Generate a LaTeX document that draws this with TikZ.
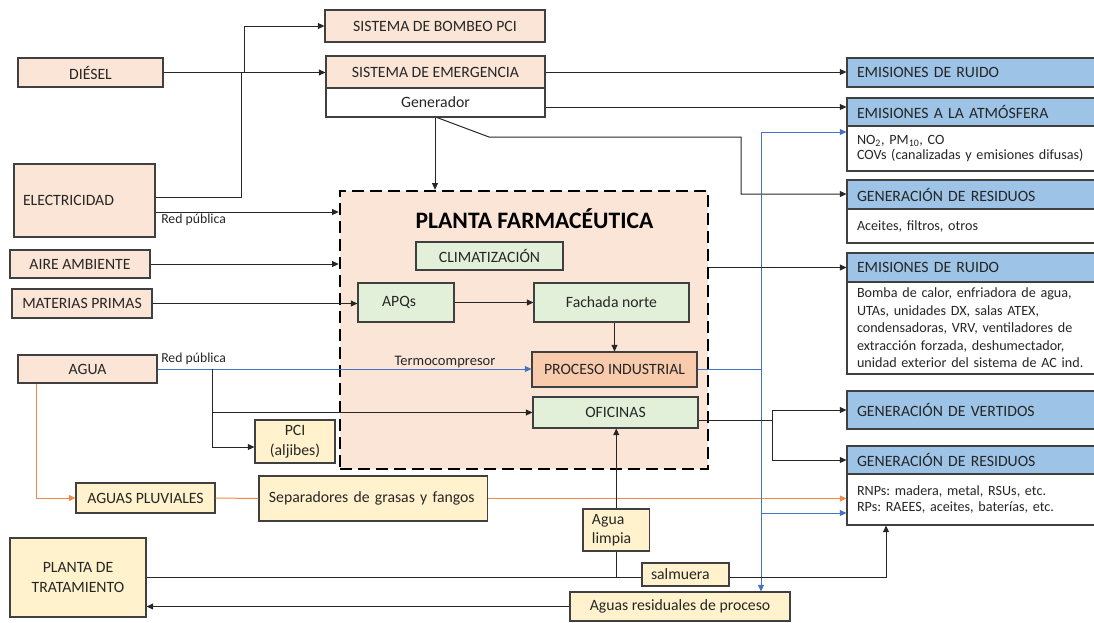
\documentclass[tikz,border=0pt]{standalone}
\usepackage{fontspec}
\setmainfont{Carlito}
\usetikzlibrary{arrows.meta}
\definecolor{peach}{HTML}{FBE5D6}
\definecolor{lgreen}{HTML}{E2F0D9}
\definecolor{lyellow}{HTML}{FFF2CC}
\definecolor{hblue}{HTML}{9DC3E6}
\definecolor{procfill}{HTML}{F8CBAD}
\definecolor{bord}{HTML}{404040}
\definecolor{txt}{HTML}{262626}
\definecolor{lc}{HTML}{262626}
\definecolor{lblue}{HTML}{4472C4}
\definecolor{lorange}{HTML}{F08A4B}
\newcommand\pbox[7]{\node[#2, minimum width={(#5-#3)*0.75pt}, minimum height={(#6-#4)*0.75pt}] (#1) at ({(#3+#5)/2},{(#4+#6)/2}) {#7};}
\tikzset{
  every node/.style={text=txt, font=\fontsize{11.8}{14}\selectfont},
  bx/.style={draw=bord, line width=0.8pt, inner sep=2pt, align=center},
  pch/.style={bx, fill=peach},
  grn/.style={bx, fill=lgreen},
  ylw/.style={bx, fill=lyellow},
  wht/.style={bx, fill=white},
  prc/.style={bx, fill=procfill},
  hdr/.style={bx, fill=hblue, align=left, text width=204.75pt, inner xsep=7.5pt},
  bdy/.style={bx, fill=white, align=left, text width=204.75pt, inner xsep=7.5pt},
  plantst/.style={draw=black, line width=1.9pt, dash pattern=on 9pt off 4.5pt, fill=peach},
  con/.style={draw=lc, line width=0.75pt},
  arr/.style={con, -{Triangle[length=5pt,width=4.5pt]}},
  bcon/.style={draw=lblue, line width=0.75pt},
  barr/.style={bcon, -{Triangle[length=5pt,width=4.5pt]}},
  ocon/.style={draw=lorange, line width=0.75pt},
  oarr/.style={ocon, -{Triangle[length=5pt,width=4.5pt]}},
  lbl/.style={inner sep=0pt, font=\fontsize{10.3}{12}\selectfont},
}
\frenchspacing
\begin{document}
\begin{tikzpicture}[x=0.75pt, y=-0.75pt]
\useasboundingbox (0,0) rectangle (1094,622);
% plant
\pbox{plant}{plantst}{340}{191}{708}{469}{}
\node[font=\fontsize{17.7}{21}\selectfont\bfseries, text=black] (title) at (534.5,219) {PLANTA FARMACÉUTICA};
\pbox{clim}{grn}{416}{242}{563}{270}{CLIMATIZACIÓN}
\pbox{apq}{grn, align=left, text width=36pt, inner xsep=18pt}{358}{283}{454}{322}{APQs}
\pbox{fach}{grn}{534}{283}{689}{322}{Fachada norte}
\pbox{proc}{prc}{532}{352}{697}{387}{PROCESO INDUSTRIAL}
\pbox{ofi}{grn}{533}{397}{698}{428}{OFICINAS}
% left column
\pbox{bombeo}{pch}{325}{10}{545}{42}{SISTEMA DE BOMBEO PCI}
\pbox{emerg}{pch}{326}{56}{545}{88}{SISTEMA DE EMERGENCIA}
\pbox{gen}{wht}{326}{88}{545}{117}{Generador}
\pbox{diesel}{pch}{18}{58}{163}{87}{DIÉSEL}
\pbox{elec}{pch, align=left, text width=92.25pt, inner xsep=6.75pt}{14}{164}{155}{237}{ELECTRICIDAD}
\pbox{aire}{pch}{10}{250}{150}{278}{AIRE AMBIENTE}
\pbox{mat}{pch}{12}{289}{152}{318}{MATERIAS PRIMAS}
\pbox{agua}{pch}{18}{355}{157}{383}{AGUA}
\pbox{pci}{ylw, font=\fontsize{11.8}{15}\selectfont}{255}{420}{335}{463}{PCI\\(aljibes)}
\pbox{pluv}{ylw}{76}{483}{215}{513}{AGUAS PLUVIALES}
\pbox{sep}{ylw, align=left, text width=156.4pt, inner xsep=7.5pt}{259}{476}{487.5}{521}{Separadores de grasas y fangos}
\pbox{pt}{ylw, font=\fontsize{11.8}{14.5}\selectfont}{10}{538}{146}{617}{PLANTA DE\\TRATAMIENTO}
\pbox{alimp}{ylw, align=left, text width=36.4pt, inner xsep=6.75pt, font=\fontsize{11.8}{14.2}\selectfont}{583}{509}{649.5}{551}{Agua\\limpia}
\pbox{ares}{ylw}{570}{592}{790}{621}{Aguas residuales de proceso}
% right column
\pbox{ruido1}{hdr}{847}{58}{1140}{87}{EMISIONES DE RUIDO}
\pbox{atmh}{hdr}{847}{98}{1140}{126}{EMISIONES A LA ATMÓSFERA}
\pbox{atmb}{bdy, font=\fontsize{10.6}{10.8}\selectfont}{847}{126}{1140}{171}{NO\textsubscript{2}, PM\textsubscript{10}, CO\\COVs (canalizadas y emisiones difusas)}
\pbox{res1h}{hdr}{847}{180}{1140}{209}{GENERACIÓN DE RESIDUOS}
\pbox{res1b}{bdy, font=\fontsize{10.6}{12.5}\selectfont}{847}{209}{1140}{243}{Aceites, filtros, otros}
\pbox{ruido2h}{hdr}{847}{253}{1140}{282}{EMISIONES DE RUIDO}
\pbox{ruido2b}{bdy, font=\fontsize{10.6}{13.1}\selectfont}{847}{282}{1140}{374}{Bomba de calor, enfriadora de agua,\\UTAs, unidades DX, salas ATEX,\\condensadoras, VRV, ventiladores de\\extracción forzada, deshumectador,\\unidad exterior del sistema de AC ind.}
\pbox{vert}{hdr}{847}{391}{1140}{429}{GENERACIÓN DE VERTIDOS}
\pbox{res2h}{hdr}{847}{446}{1140}{474}{GENERACIÓN DE RESIDUOS}
\pbox{res2b}{bdy, font=\fontsize{10.6}{12.5}\selectfont}{847}{474}{1140}{525}{RNPs: madera, metal, RSUs, etc.\\RPs: RAEES, aceites, baterías, etc.}
% coordinates
\coordinate (jD) at (244,72);
\coordinate (jE) at (241,197);
\coordinate (jE2) at (241,72);
\coordinate (rp) at (0,212);
\coordinate (gx) at (435,0);
\coordinate (gd0) at (437,0);
\coordinate (gd2) at (489,137);
\coordinate (gd3) at (741,137);
\coordinate (gd4) at (741,194);
\coordinate (gy) at (0,107);
\coordinate (jA) at (212,369);
\coordinate (jP) at (212,447);
\coordinate (oA) at (36,0);
\coordinate (bvT) at (761,132);
\coordinate (bvR) at (761,513);
\coordinate (oV) at (772,420);
\coordinate (sL) at (886,577);
% connectors
\draw[arr] (diesel.east) -- (emerg.west |- diesel.east);
\draw[arr] (jD) |- (bombeo.west);
\draw[con] (elec.east |- jE) -- (jE) -- (jE2);
\draw[arr] (elec.east |- rp) -- (plant.west |- rp);
\node[lbl, anchor=west] (rp1) at (161,220) {Red pública};
\draw[arr] (aire.east) -- (plant.west |- aire.east);
\draw[arr] (mat.east) -- (apq.west |- mat.east);
\draw[arr] (apq.east) -- (fach.west |- apq.east);
\draw[arr] (fach.south -| proc.north) -- (proc.north);
\draw[arr] (gen.south -| gx) -- (plant.north -| gx);
\draw[arr] (gen.south -| gd0) -- (gd2) -- (gd3) -- (gd4) -- (res1h.west |- gd4);
\draw[arr] (emerg.east) -- (ruido1.west |- emerg.east);
\draw[arr] (gen.east |- gy) -- (atmh.west |- gy);
\draw[barr] (agua.east) -- (proc.west |- agua.east);
\node[lbl, anchor=west] (rp2) at (161,359) {Red pública};
\node[lbl, font=\fontsize{10.9}{12}\selectfont] (termo) at (445,362) {Termocompresor};
\draw[arr] (jA) -- (jP) -- (pci.west |- jP);
\draw[arr] (jA |- ofi.west) -- (ofi.west);
\draw[oarr] (agua.south -| oA) |- (pluv.west);
\draw[ocon] (pluv.east) -- (sep.west);
\draw[oarr] (sep.east) -- (res2b.west |- sep.east);
\draw[bcon] (proc.east) -- (proc.east -| bvT);
\draw[barr] (bvT) -- (atmb.west |- bvT);
\draw[barr] (bvT) -- (ares.north -| bvT);
\draw[barr] (bvR) -- (res2b.west |- bvR);
\draw[arr] (plant.east |- ruido2h.west) -- (ruido2h.west);
\draw[con] (ofi.east |- oV) -- (oV);
\draw[arr] (oV) |- (vert.west);
\draw[arr] (oV) |- (res2h.west);
\draw[arr] (alimp.north) -- (alimp.north |- ofi.south);
\draw[con] (alimp.south) -- (alimp.south |- sL);
\draw[arr] (pt.east |- sL) -- (sL) -- (res2b.south -| sL);
\draw[arr] (ares.west) -- (pt.east |- ares.west);
\pbox{salm}{ylw, align=left, text width=51.75pt, inner xsep=6.75pt}{642}{563}{729}{586}{salmuera}
\end{tikzpicture}
\end{document}
